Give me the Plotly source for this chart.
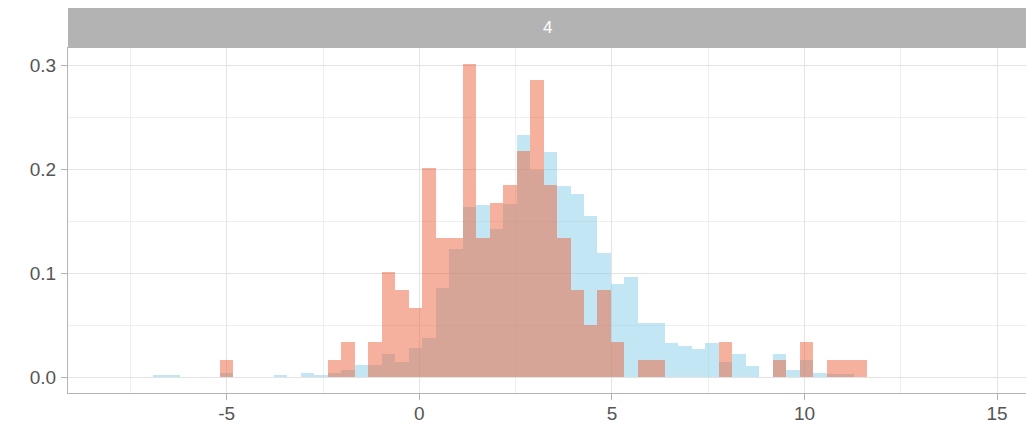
import plotly.graph_objects as go

# ---- data (density histogram, facet "4") ----
facet_label = "4"
bin_start = -6.925      # left edge of first bin
bin_width = 0.35

blue_density = [
    0.002, 0.002, 0, 0, 0, 0.004, 0, 0, 0, 0.002, 0, 0.004, 0.002, 0.004,
    0.0075, 0.0115, 0.0115, 0.022, 0.015, 0.028, 0.038, 0.086, 0.124, 0.164,
    0.166, 0.143, 0.167, 0.233, 0.200, 0.217, 0.184, 0.177, 0.155, 0.120,
    0.090, 0.097, 0.052, 0.052, 0.033, 0.030, 0.027, 0.033, 0.015, 0.022,
    0.011, 0, 0.022, 0.007, 0.017, 0.0045, 0.003, 0.003, 0,
]
salmon_density = [
    0, 0, 0, 0, 0, 0.017, 0, 0, 0, 0, 0, 0, 0, 0.017,
    0.034, 0, 0.034, 0.101, 0.084, 0.067, 0.202, 0.134, 0.134, 0.302,
    0.134, 0.168, 0.185, 0.218, 0.286, 0.185, 0.134, 0.084, 0.050, 0.084,
    0.034, 0, 0.017, 0.017, 0, 0, 0, 0, 0.034, 0,
    0, 0, 0.017, 0, 0.034, 0, 0.017, 0.017, 0.017,
]
x_ticks = [-5, 0, 5, 10, 15]
y_ticks = [0.0, 0.1, 0.2, 0.3]

bin_centers = [bin_start + bin_width * (i + 0.5) for i in range(len(blue_density))]

fig = go.Figure()
fig.add_trace(go.Bar(
    x=bin_centers, y=blue_density, width=bin_width,
    marker=dict(color="rgba(135,206,235,0.5)", line=dict(width=0)),
    name="b", showlegend=False,
))
fig.add_trace(go.Bar(
    x=bin_centers, y=salmon_density, width=bin_width,
    marker=dict(color="rgba(235,100,60,0.5)", line=dict(width=0)),
    name="a", showlegend=False,
))

W, H = 1026, 427
ml, mr, mt, mb = 68, 0, 48, 34
plot_h = H - mt - mb
strip_h = 40

fig.update_layout(
    width=W, height=H,
    margin=dict(l=ml, r=mr, t=mt, b=mb, pad=0, autoexpand=False),
    barmode="overlay", bargap=0,
    plot_bgcolor="white", paper_bgcolor="white",
    font=dict(family="Liberation Sans, Arial, sans-serif", size=19, color="#555555"),
    xaxis=dict(
        range=[-9.12, 15.75], tickvals=x_ticks, ticktext=[str(v) for v in x_ticks],
        showgrid=True, gridcolor="#E3E3E3", gridwidth=1,
        minor=dict(showgrid=True, gridcolor="#EFEFEF", gridwidth=1, tick0=0, dtick=2.5),
        zeroline=False, showline=True, linecolor="#B3B3B3", linewidth=1, mirror=True,
        ticks="outside", ticklen=6, tickcolor="#B3B3B3", tickwidth=1,
        tickfont=dict(size=19, color="#555555"), ticklabelstandoff=-3,
    ),
    yaxis=dict(
        range=[-0.0151, 0.3171], tickvals=y_ticks, ticktext=["%.1f" % v for v in y_ticks],
        showgrid=True, gridcolor="#E3E3E3", gridwidth=1,
        minor=dict(showgrid=True, gridcolor="#EFEFEF", gridwidth=1, tick0=0, dtick=0.05),
        zeroline=False, showline=True, linecolor="#B3B3B3", linewidth=1, mirror=True,
        ticks="outside", ticklen=6, tickcolor="#B3B3B3", tickwidth=1,
        tickfont=dict(size=19, color="#555555"), ticklabelstandoff=1,
    ),
    shapes=[dict(
        type="rect", xref="paper", yref="paper",
        x0=0, x1=1, y0=1, y1=1 + strip_h / plot_h,
        fillcolor="#B3B3B3", line=dict(width=0), layer="above",
    )],
    annotations=[dict(
        text=facet_label, xref="paper", yref="paper",
        x=0.5, y=1 + (strip_h / 2) / plot_h, showarrow=False,
        font=dict(size=17, color="white"), xanchor="center", yanchor="middle",
    )],
)

fig.write_html(
    "out.html",
    config={"displayModeBar": False},
    post_script="document.body.style.margin='0';document.body.style.overflow='hidden';"
                "document.documentElement.style.overflow='hidden';",
)
